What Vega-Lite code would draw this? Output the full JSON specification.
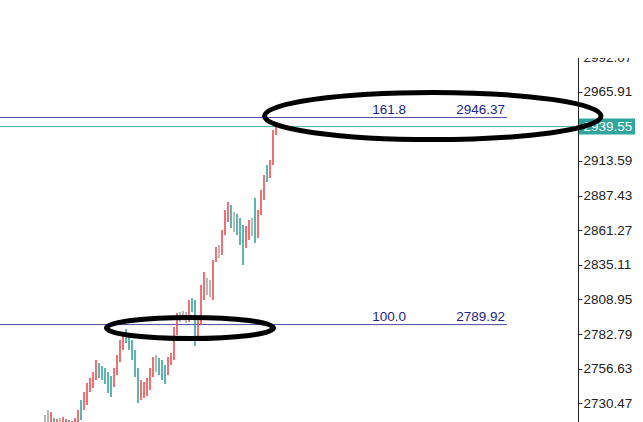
{
  "$schema": "https://vega.github.io/schema/vega-lite/v6.json",
  "width": 578,
  "height": 422,
  "autosize": {"type": "none"},
  "padding": {"left": 0, "top": 0, "right": 65, "bottom": 0},
  "background": "white",
  "config": {
    "view": {"stroke": null},
    "axisY": {
      "grid": false,
      "zindex": 0,
      "labelFont": "Liberation Sans",
      "labelFontSize": 13.5,
      "labelColor": "#222222",
      "labelPadding": 1,
      "tickSize": 4,
      "tickColor": "#222222",
      "domainColor": "#222222",
      "labelOverlap": false,
      "labelFlush": false
    }
  },
  "datasets": {
    "bars": [
      {"i": 0, "high": 2721.6, "low": 2714.1, "dir": "flat"},
      {"i": 1, "high": 2725.4, "low": 2716.3, "dir": "flat"},
      {"i": 2, "high": 2723.9, "low": 2714.8, "dir": "up"},
      {"i": 3, "high": 2719.4, "low": 2713.3, "dir": "down"},
      {"i": 4, "high": 2718.6, "low": 2711.8, "dir": "up"},
      {"i": 5, "high": 2719.4, "low": 2713.3, "dir": "flat"},
      {"i": 6, "high": 2720.1, "low": 2712.6, "dir": "up"},
      {"i": 7, "high": 2718.6, "low": 2710.3, "dir": "up"},
      {"i": 8, "high": 2717.9, "low": 2710.3, "dir": "down"},
      {"i": 9, "high": 2717.1, "low": 2708.8, "dir": "up"},
      {"i": 10, "high": 2719.4, "low": 2711.8, "dir": "up"},
      {"i": 11, "high": 2725.4, "low": 2714.8, "dir": "up"},
      {"i": 12, "high": 2733.0, "low": 2717.9, "dir": "down"},
      {"i": 13, "high": 2739.0, "low": 2725.4, "dir": "up"},
      {"i": 14, "high": 2745.8, "low": 2729.2, "dir": "up"},
      {"i": 15, "high": 2749.6, "low": 2739.0, "dir": "up"},
      {"i": 16, "high": 2754.1, "low": 2742.0, "dir": "up"},
      {"i": 17, "high": 2763.2, "low": 2748.1, "dir": "up"},
      {"i": 18, "high": 2760.9, "low": 2749.6, "dir": "down"},
      {"i": 19, "high": 2758.7, "low": 2748.1, "dir": "down"},
      {"i": 20, "high": 2757.1, "low": 2745.1, "dir": "down"},
      {"i": 21, "high": 2754.1, "low": 2738.3, "dir": "down"},
      {"i": 22, "high": 2751.1, "low": 2735.2, "dir": "down"},
      {"i": 23, "high": 2757.1, "low": 2742.8, "dir": "up"},
      {"i": 24, "high": 2767.0, "low": 2751.9, "dir": "up"},
      {"i": 25, "high": 2778.3, "low": 2761.7, "dir": "up"},
      {"i": 26, "high": 2784.3, "low": 2770.7, "dir": "up"},
      {"i": 27, "high": 2786.6, "low": 2776.0, "dir": "down"},
      {"i": 28, "high": 2782.1, "low": 2770.7, "dir": "down"},
      {"i": 29, "high": 2778.3, "low": 2763.2, "dir": "down"},
      {"i": 30, "high": 2770.7, "low": 2750.3, "dir": "down"},
      {"i": 31, "high": 2757.1, "low": 2730.7, "dir": "down"},
      {"i": 32, "high": 2748.1, "low": 2733.0, "dir": "up"},
      {"i": 33, "high": 2746.6, "low": 2734.5, "dir": "up"},
      {"i": 34, "high": 2749.6, "low": 2736.0, "dir": "up"},
      {"i": 35, "high": 2757.1, "low": 2740.5, "dir": "up"},
      {"i": 36, "high": 2765.5, "low": 2750.3, "dir": "up"},
      {"i": 37, "high": 2767.0, "low": 2754.1, "dir": "flat"},
      {"i": 38, "high": 2764.7, "low": 2751.9, "dir": "down"},
      {"i": 39, "high": 2763.2, "low": 2748.1, "dir": "down"},
      {"i": 40, "high": 2759.4, "low": 2745.1, "dir": "down"},
      {"i": 41, "high": 2765.5, "low": 2751.9, "dir": "up"},
      {"i": 42, "high": 2768.5, "low": 2759.4, "dir": "up"},
      {"i": 43, "high": 2788.1, "low": 2763.2, "dir": "up"},
      {"i": 44, "high": 2798.7, "low": 2782.1, "dir": "up"},
      {"i": 45, "high": 2799.5, "low": 2791.9, "dir": "flat"},
      {"i": 46, "high": 2800.2, "low": 2793.4, "dir": "flat"},
      {"i": 47, "high": 2799.5, "low": 2791.1, "dir": "flat"},
      {"i": 48, "high": 2808.5, "low": 2791.9, "dir": "up"},
      {"i": 49, "high": 2810.0, "low": 2799.5, "dir": "down"},
      {"i": 50, "high": 2808.5, "low": 2773.8, "dir": "down"},
      {"i": 51, "high": 2793.4, "low": 2778.3, "dir": "up"},
      {"i": 52, "high": 2819.9, "low": 2789.6, "dir": "up"},
      {"i": 53, "high": 2829.7, "low": 2808.5, "dir": "up"},
      {"i": 54, "high": 2825.1, "low": 2812.3, "dir": "flat"},
      {"i": 55, "high": 2823.6, "low": 2810.8, "dir": "flat"},
      {"i": 56, "high": 2838.7, "low": 2808.5, "dir": "up"},
      {"i": 57, "high": 2848.6, "low": 2837.2, "dir": "up"},
      {"i": 58, "high": 2850.1, "low": 2840.3, "dir": "flat"},
      {"i": 59, "high": 2861.4, "low": 2842.5, "dir": "up"},
      {"i": 60, "high": 2876.5, "low": 2857.6, "dir": "up"},
      {"i": 61, "high": 2882.6, "low": 2867.5, "dir": "up"},
      {"i": 62, "high": 2880.3, "low": 2862.9, "dir": "down"},
      {"i": 63, "high": 2875.0, "low": 2859.9, "dir": "flat"},
      {"i": 64, "high": 2873.5, "low": 2857.6, "dir": "down"},
      {"i": 65, "high": 2870.5, "low": 2850.1, "dir": "down"},
      {"i": 66, "high": 2865.2, "low": 2835.0, "dir": "down"},
      {"i": 67, "high": 2864.4, "low": 2847.8, "dir": "up"},
      {"i": 68, "high": 2869.0, "low": 2853.9, "dir": "up"},
      {"i": 69, "high": 2870.5, "low": 2856.9, "dir": "flat"},
      {"i": 70, "high": 2885.6, "low": 2851.6, "dir": "down"},
      {"i": 71, "high": 2876.5, "low": 2855.4, "dir": "up"},
      {"i": 72, "high": 2891.6, "low": 2872.7, "dir": "up"},
      {"i": 73, "high": 2903.0, "low": 2884.1, "dir": "up"},
      {"i": 74, "high": 2910.5, "low": 2897.7, "dir": "down"},
      {"i": 75, "high": 2914.3, "low": 2900.7, "dir": "up"},
      {"i": 76, "high": 2937.0, "low": 2910.5, "dir": "up"},
      {"i": 77, "high": 2941.0, "low": 2933.2, "dir": "up"}
    ],
    "fib": [
      {"level": "161.8", "price": 2946.37},
      {"level": "100.0", "price": 2789.92}
    ],
    "bid": [
      {"price": 2939.55}
    ]
  },
  "layer": [
    {
      "data": {"name": "fib"},
      "mark": {"type": "rule", "color": "#4b4b9e", "strokeWidth": 1},
      "encoding": {
        "x": {"datum": -15, "type": "quantitative", "scale": {"domain": [-15, 177.6667], "nice": false, "zero": false}, "axis": null},
        "x2": {"datum": 154},
        "y": {
          "field": "price",
          "type": "quantitative",
          "title": null,
          "scale": {"domain": [2716.3, 3035.2], "nice": false, "zero": false},
          "axis": {
            "orient": "right",
            "values": [2730.47, 2756.63, 2782.79, 2808.95, 2835.11, 2861.27, 2887.43, 2913.59, 2939.75, 2965.91, 2992.07],
            "format": ".2f"
          }
        }
      }
    },
    {
      "data": {"name": "bid"},
      "mark": {"type": "rule", "color": "#45ada5", "strokeWidth": 1},
      "encoding": {
        "x": {"datum": -15, "type": "quantitative", "axis": null},
        "x2": {"datum": 177.6667},
        "y": {"field": "price", "type": "quantitative", "title": null}
      }
    },
    {
      "data": {"name": "bars"},
      "mark": {"type": "rule", "strokeWidth": 1.6},
      "encoding": {
        "x": {"field": "i", "type": "quantitative", "axis": null},
        "y": {"field": "low", "type": "quantitative", "title": null},
        "y2": {"field": "high"},
        "color": {
          "field": "dir",
          "type": "nominal",
          "scale": {"domain": ["up", "down", "flat"], "range": ["#ef4b4f", "#35a39b", "#a7a7a7"]},
          "legend": null
        }
      }
    },
    {
      "data": {"name": "fib"},
      "mark": {"type": "text", "align": "right", "baseline": "alphabetic", "dy": -4, "font": "Liberation Sans", "fontSize": 13.5, "color": "#23238c"},
      "encoding": {
        "x": {"datum": 120.33, "type": "quantitative", "axis": null},
        "y": {"field": "price", "type": "quantitative", "title": null},
        "text": {"field": "level"}
      }
    },
    {
      "data": {"name": "fib"},
      "mark": {"type": "text", "align": "right", "baseline": "alphabetic", "dy": -4, "font": "Liberation Sans", "fontSize": 13.5, "color": "#23238c"},
      "encoding": {
        "x": {"datum": 153.33, "type": "quantitative", "axis": null},
        "y": {"field": "price", "type": "quantitative", "title": null},
        "text": {"field": "price", "format": ".2f"}
      }
    },
    {
      "data": {"name": "bid"},
      "mark": {"type": "rect", "color": "#2fa59b", "clip": false},
      "encoding": {
        "x": {"datum": 178, "type": "quantitative", "axis": null},
        "x2": {"datum": 196.67},
        "y": {"datum": 2933.5, "type": "quantitative", "title": null},
        "y2": {"datum": 2945.6}
      }
    },
    {
      "data": {"name": "bid"},
      "mark": {"type": "text", "align": "left", "baseline": "middle", "font": "Liberation Sans", "fontSize": 13.5, "color": "white", "clip": false},
      "encoding": {
        "x": {"datum": 179.5, "type": "quantitative", "axis": null},
        "y": {"field": "price", "type": "quantitative", "title": null},
        "text": {"field": "price", "format": ".2f"}
      }
    },
    {
      "data": {"values": [{"i": 129.26, "price": 2947.5}]},
      "mark": {
        "type": "point",
        "shape": "M-1,0C-1,-0.0773,-0.5523,-0.14,0,-0.14C0.5523,-0.14,1,-0.0773,1,0C1,0.0773,0.5523,0.14,0,0.14C-0.5523,0.14,-1,0.0773,-1,0Z",
        "filled": false,
        "stroke": "black",
        "strokeWidth": 5,
        "opacity": 1,
        "size": 113232,
        "clip": false
      },
      "encoding": {
        "x": {"field": "i", "type": "quantitative", "axis": null},
        "y": {"field": "price", "type": "quantitative", "title": null}
      }
    },
    {
      "data": {"values": [{"i": 48.33, "price": 2787.36}]},
      "mark": {
        "type": "point",
        "shape": "M-1,0C-1,-0.0696,-0.5523,-0.126,0,-0.126C0.5523,-0.126,1,-0.0696,1,0C1,0.0696,0.5523,0.126,0,0.126C-0.5523,0.126,-1,0.0696,-1,0Z",
        "filled": false,
        "stroke": "black",
        "strokeWidth": 5,
        "opacity": 1,
        "size": 27889,
        "clip": false
      },
      "encoding": {
        "x": {"field": "i", "type": "quantitative", "axis": null},
        "y": {"field": "price", "type": "quantitative", "title": null}
      }
    },
    {
      "data": {"values": [{"top": 3040, "bottom": 2991.4}]},
      "mark": {"type": "rect", "color": "white", "clip": false},
      "encoding": {
        "x": {"datum": -16, "type": "quantitative", "axis": null},
        "x2": {"datum": 201},
        "y": {"field": "bottom", "type": "quantitative", "title": null},
        "y2": {"field": "top"}
      }
    }
  ]
}
